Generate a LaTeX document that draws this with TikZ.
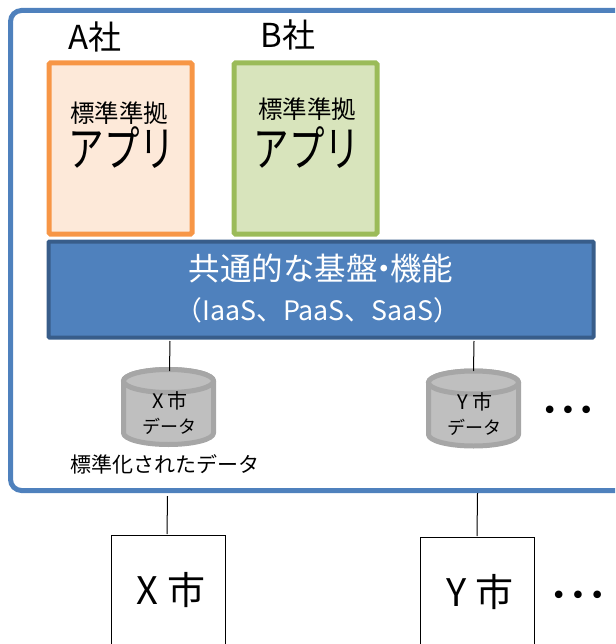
\documentclass[tikz,border=0pt]{standalone}
\usepackage{fontspec}
\setmainfont{Noto Sans CJK JP}
\newfontfamily\dotfont{DejaVu Sans}
\newfontfamily\narrowfont[FakeStretch=0.74]{Noto Sans CJK JP}
\usetikzlibrary{shapes.geometric}
\definecolor{outerblue}{HTML}{4F81BD}
\definecolor{barline}{HTML}{385D8A}
\definecolor{orangeline}{HTML}{F79646}
\definecolor{orangefill}{HTML}{FDE9D9}
\definecolor{greenline}{HTML}{9BBB59}
\definecolor{greenfill}{HTML}{D8E4BC}
\definecolor{cylline}{HTML}{A6A6A6}
\definecolor{cylfill}{HTML}{BFBFBF}
\tikzset{
  x=1pt,y=-1pt,
  appbox/.style={rectangle,rounded corners=1.5pt,line width=5pt,minimum width=143pt,minimum height=171pt,inner sep=0pt},
  txt/.style={inner sep=0pt,text=black},
  dbspot/.style={rectangle,minimum width=95pt,minimum height=80pt,inner sep=0pt},
  dbshape/.style={draw=cylline,fill=cylfill,line width=5pt},
  citybox/.style={rectangle,draw=black,line width=1pt,fill=white,minimum width=114pt,minimum height=160pt,inner sep=0pt},
  conn/.style={draw=black,line width=1pt}
}
\newcommand{\dbcylinder}[1]{%
  \begin{scope}[shift={(#1.center)}]
    \path[dbshape,line join=round] (-45,-26) -- (-45,26) arc[start angle=180,end angle=360,x radius=45pt,y radius=11.5pt] -- (45,-26) arc[start angle=0,end angle=180,x radius=45pt,y radius=11.5pt] -- cycle;
    \path[dbshape] (0,-26) ellipse[x radius=45pt,y radius=11.5pt];
  \end{scope}}
\begin{document}
\begin{tikzpicture}
\useasboundingbox (0,0) rectangle (615,644);
\clip (0,0) rectangle (615,644);
\node[rectangle,draw=outerblue,line width=5pt,rounded corners=11pt,minimum width=640pt,minimum height=480pt,inner sep=0pt,anchor=north west] (outer) at (8,8) {};
\node[appbox,draw=orangeline,fill=orangefill] (appa) at (120.5,148.5) {};
\node[appbox,draw=greenline,fill=greenfill] (appb) at (305.5,148.5) {};
\node[txt,font=\fontsize{33}{33}\selectfont] (la) at (95,37) {A社};
\node[txt,font=\fontsize{33}{33}\selectfont] (lb) at (288,35) {B社};
\node[txt,font=\fontsize{24.5}{24.5}\selectfont] (sa) at (119,113) {標準準拠};
\node[txt,font=\fontsize{24.5}{24.5}\selectfont] (sb) at (307,109) {標準準拠};
\node[txt,font=\narrowfont\fontsize{48}{48}\selectfont] (pa) at (122,148) {アプリ};
\node[txt,font=\narrowfont\fontsize{48}{48}\selectfont] (pb) at (307,148) {アプリ};
\node[rectangle,rounded corners=1pt,draw=barline,fill=outerblue,line width=4pt,minimum width=545pt,minimum height=96pt,inner sep=0pt] (bar) at (321,289.5) {};
\node[txt,text=white,font=\fontsize{31.5}{31.5}\selectfont] (bar1) at (321,268.5) {共通的な基盤\hspace{-0.3em}・\hspace{-0.3em}機能};
\node[txt,text=white,font=\fontsize{26.8}{26.8}\selectfont] (bar2) at (318,310) {（IaaS、PaaS、SaaS）};
\node[dbspot] (dbx) at (168.5,407) {};
\node[dbspot] (dby) at (473.5,408.5) {};
\dbcylinder{dbx}
\dbcylinder{dby}
\node[txt,font=\fontsize{20}{20}\selectfont] (dx1) at (170,401) {X 市};
\node[txt,font=\fontsize{18}{18}\selectfont] (dx2) at (169,426) {データ};
\node[txt,font=\fontsize{20}{20}\selectfont] (dy1) at (475,402) {Y 市};
\node[txt,font=\fontsize{18}{18}\selectfont] (dy2) at (474,427) {データ};
\node[txt,font=\fontsize{21}{21}\selectfont] (std) at (165,464) {標準化されたデータ};
\node[txt,font=\dotfont\fontsize{26}{26}\selectfont] (dots1) at (568,413) {•\hspace{3pt}•\hspace{3pt}•};
\node[citybox,anchor=north west] (cx) at (111,534.5) {};
\node[citybox,anchor=north west] (cy) at (420,536.5) {};
\node[txt,font=\fontsize{38}{38}\selectfont] (cxl) at (171,590) {X 市};
\node[txt,font=\fontsize{38}{38}\selectfont] (cyl) at (480,592) {Y 市};
\node[txt,font=\dotfont\fontsize{26}{26}\selectfont] (dots2) at (578,598) {•\hspace{4pt}•\hspace{4pt}•};
\coordinate (cxa) at (170,341);
\coordinate (cxb) at (169.5,371);
\coordinate (cya) at (474,341);
\coordinate (cyb) at (473.5,371);
\coordinate (oxa) at (167.5,496);
\coordinate (oya) at (477.5,493);
\coordinate (oxb) at (167,534);
\coordinate (oyb) at (477,536);
\draw[conn] (cxa) -- (cxb);
\draw[conn] (cya) -- (cyb);
\draw[conn] (oxa) -- (oxb);
\draw[conn] (oya) -- (oyb);
\end{tikzpicture}
\end{document}
